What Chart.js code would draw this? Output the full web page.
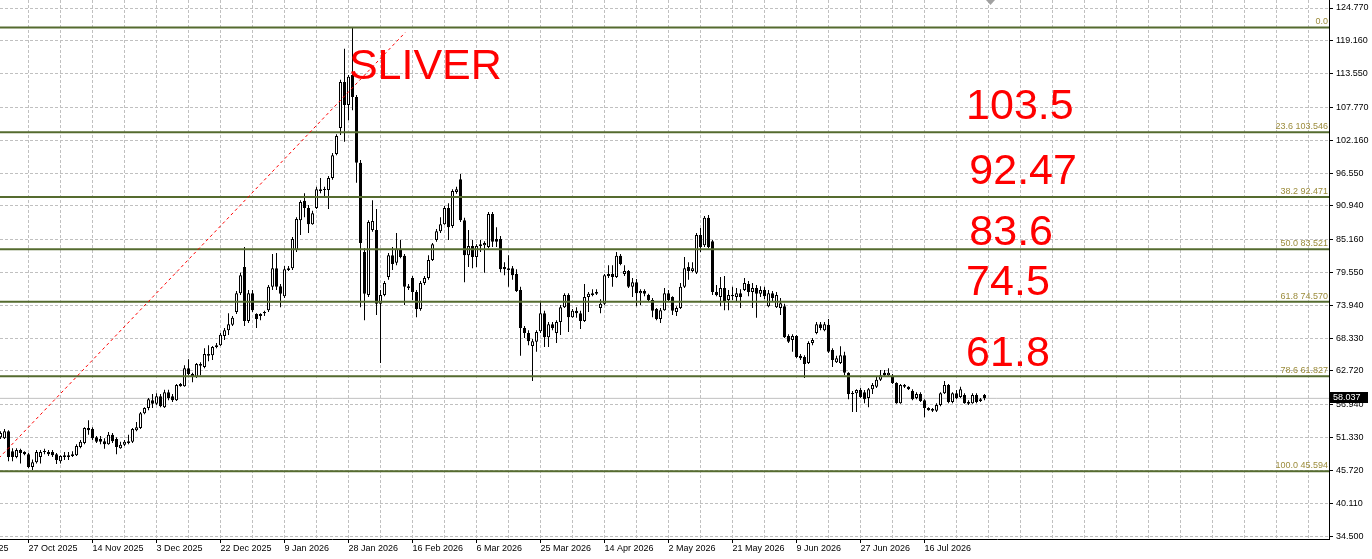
<!DOCTYPE html>
<html><head><meta charset="utf-8">
<script src="https://cdn.jsdelivr.net/npm/chart.js@4.4.1/dist/chart.umd.min.js"></script>
<style>html,body{margin:0;padding:0;background:#fff;overflow:hidden}canvas{display:block}</style>
</head><body>
<canvas id="c" width="1372" height="559"></canvas>
<script>
// ---- data (daily candles) ----
const opens=[51.4,51.2,52.4,49.0,48.0,49.2,48.85,48.5,46.3,47.1,
48.0,48.85,48.85,48.85,48.5,47.3,48.3,48.3,48.5,48.3,
49.7,50.4,52.95,52.8,51.4,51.1,50.7,50.2,51.8,51.1,
49.5,50.1,50.4,50.6,52.6,52.95,55.5,56.4,57.7,57.1,
58.4,56.5,59.1,58.4,57.7,60.5,60.1,63.2,62.2,61.7,
63.9,63.4,65.6,65.4,66.8,67.1,68.7,69.7,70.6,72.8,
76.0,80.5,71.25,76.0,72.45,72.1,72.6,73.1,77.1,80.3,
77.2,75.5,80.0,80.3,83.4,88.5,91.8,90.6,87.8,90.6,
93.8,93.65,93.65,95.7,99.8,104.25,112.1,108.2,113.3,109.55,
98.3,83.05,75.7,86.8,86.8,74.2,75.7,78.8,82.5,81.2,
83.4,82.4,77.2,78.6,76.2,73.3,77.75,78.6,81.7,85.1,
86.6,87.8,90.6,87.5,93.3,95.5,88.5,82.5,84.1,82.2,
84.1,84.2,83.9,89.55,85.3,85.3,80.5,80.3,80.3,79.3,
76.55,70.05,69.2,67.0,67.7,69.5,72.6,68.5,70.7,69.2,
71.1,73.6,75.7,71.9,73.0,72.6,71.25,75.35,75.7,75.9,
73.5,74.2,79.3,79.3,78.8,82.4,79.3,79.8,77.1,77.9,
76.0,76.4,75.7,74.85,73.3,71.6,73.1,76.0,75.35,72.8,
73.5,77.1,80.5,79.8,79.5,85.95,84.2,88.9,84.9,76.2,
75.35,76.9,74.85,75.5,75.35,76.0,76.55,77.6,76.2,76.9,
75.9,76.55,73.8,76.0,73.6,73.5,73.8,68.7,68.0,68.7,
65.3,65.1,64.1,67.5,69.2,70.7,69.7,70.6,66.3,64.2,
64.1,65.4,62.4,58.9,58.9,59.45,59.1,58.1,59.6,60.0,
61.2,62.4,62.0,61.7,60.65,57.2,60.3,60.0,59.3,58.1,
58.8,57.7,56.4,56.2,55.9,56.9,58.9,60.3,57.4,58.9,
58.25,58.6,57.4,57.2,58.6,57.9,58.6];
const highs=[52.4,52.8,52.6,49.5,49.5,49.4,49.0,48.7,47.6,49.2,
49.2,49.4,49.2,49.2,48.7,48.3,48.85,48.85,49.0,50.2,
50.9,53.1,54.3,53.1,51.6,51.6,51.2,52.3,52.1,51.4,
50.6,50.9,51.8,52.95,54.0,55.7,56.5,58.1,58.8,58.9,
58.8,59.5,59.5,58.8,60.5,60.65,63.7,64.7,62.4,64.1,
64.2,66.6,67.1,67.0,67.5,69.2,70.05,72.6,72.1,76.4,
79.5,83.9,76.55,76.55,72.6,72.6,73.0,77.4,82.7,82.9,
77.6,80.65,80.65,85.6,89.0,91.9,93.1,91.1,90.1,94.2,
95.7,94.2,96.05,100.0,103.2,112.5,117.8,113.3,121.448,109.9,
98.8,83.7,88.5,91.9,90.4,76.55,78.1,82.9,83.9,86.3,
85.1,82.7,77.6,78.95,76.55,78.1,78.95,82.5,84.6,87.0,
89.0,90.9,91.4,93.8,94.2,96.4,88.9,86.8,85.1,84.4,
85.1,84.9,89.9,89.9,87.3,85.8,81.3,82.5,80.65,80.1,
77.1,70.4,69.7,68.2,69.7,74.5,73.0,71.1,71.1,71.4,
74.0,76.0,76.0,73.3,73.6,73.0,77.6,76.2,76.7,76.7,
75.0,79.3,80.8,80.8,83.05,82.7,80.8,80.0,78.6,78.45,
76.7,76.7,75.9,75.2,73.5,73.5,76.9,76.55,75.5,73.8,
77.75,82.2,81.3,81.3,86.3,87.15,89.2,89.4,85.1,77.4,
78.8,78.95,76.55,77.1,76.9,76.7,78.6,78.1,77.75,77.4,
77.2,77.1,76.55,76.4,76.2,75.2,74.2,69.0,69.0,68.85,
65.6,65.4,67.8,68.35,71.1,71.1,71.1,71.6,66.6,65.3,
66.95,66.0,62.5,59.3,59.6,59.8,59.45,59.8,60.65,61.7,
62.9,62.9,63.2,62.2,60.8,60.5,60.5,60.1,59.6,59.1,
59.1,57.9,56.5,56.4,57.2,59.1,61.0,60.5,59.1,59.45,
60.0,58.9,57.7,58.9,58.9,58.1,58.8];
const lows=[51.1,51.1,47.3,47.3,47.8,46.9,48.3,46.1,45.8,46.9,
46.9,48.5,48.2,48.0,46.8,46.9,47.5,47.5,48.0,48.2,
49.5,50.2,51.8,50.9,50.4,50.2,49.4,50.1,50.4,48.5,
49.4,49.9,50.2,50.4,52.4,52.8,55.3,56.0,56.4,56.9,
56.5,56.4,57.7,57.4,57.6,60.0,60.0,62.0,60.8,61.5,
62.0,63.2,64.4,64.6,66.6,67.0,68.0,68.85,70.4,72.45,
75.7,70.4,70.9,72.8,70.05,71.4,72.1,72.8,76.55,76.55,
73.6,75.2,79.8,80.0,83.05,85.95,89.0,86.3,87.7,90.4,
93.1,92.3,90.4,95.4,99.6,103.05,101.9,105.6,107.3,94.9,
73.6,71.4,75.35,86.5,72.3,64.1,75.5,78.3,80.0,80.8,
82.0,74.0,76.55,74.85,71.9,73.0,77.4,78.3,81.5,84.8,
86.3,87.7,85.1,87.15,93.0,88.2,77.9,80.5,80.3,80.5,
83.05,79.5,83.7,83.9,83.9,79.6,79.1,77.1,78.3,76.2,
65.3,68.35,67.1,61.0,66.0,69.2,66.8,66.8,69.7,67.5,
68.85,73.5,69.4,71.8,71.8,69.9,71.1,72.8,75.5,75.7,
72.6,74.0,78.6,77.1,78.6,80.8,78.95,76.9,75.35,73.8,
74.0,75.5,74.7,71.9,71.4,70.9,73.0,74.7,72.3,72.1,
73.3,76.9,78.3,79.6,79.3,83.05,83.9,83.7,75.7,75.5,
73.8,73.1,73.1,74.85,74.7,73.5,76.4,75.5,73.5,71.8,
75.35,75.0,73.6,74.5,73.5,72.3,68.35,67.5,66.0,64.9,
64.6,61.5,63.9,67.1,69.0,69.7,69.5,65.8,63.4,64.1,
63.9,62.0,57.9,55.7,55.7,58.1,57.2,56.5,58.8,59.8,
61.0,61.7,61.85,60.5,57.1,57.1,59.8,59.45,57.7,57.9,
57.4,54.8,55.9,55.7,55.7,56.7,58.8,57.2,57.2,57.9,
58.1,57.1,56.9,57.1,57.2,57.4,57.7];
const closes=[52.1,52.4,48.0,48.0,49.2,48.7,48.5,46.3,47.1,48.85,
48.85,49.0,48.5,48.3,47.5,48.2,48.0,48.0,48.2,49.9,
50.6,52.95,52.6,51.2,50.6,50.6,50.2,51.8,50.7,49.7,
50.1,50.6,50.7,52.8,53.1,55.5,56.4,57.9,57.1,58.4,
56.7,59.1,58.1,57.7,60.3,60.1,63.2,62.2,61.7,63.9,
63.6,65.6,65.3,66.8,67.1,68.9,69.7,70.7,71.8,76.0,
79.1,71.25,76.0,73.1,71.6,72.45,72.8,77.1,80.3,77.1,
75.9,80.1,80.3,85.3,88.7,91.6,90.6,87.8,89.7,93.8,
93.5,93.8,95.7,99.6,102.9,112.1,108.2,113.0,109.55,98.3,
84.6,75.9,88.2,88.35,74.2,75.7,77.75,82.5,81.0,83.6,
82.2,77.1,76.9,76.2,73.3,77.75,78.6,81.7,84.4,86.6,
87.8,90.6,87.3,93.5,93.8,88.5,82.5,84.1,82.2,84.1,
84.4,84.6,89.55,84.8,84.8,80.1,80.1,80.0,79.1,76.4,
70.05,69.2,67.8,67.8,69.4,72.6,68.5,70.7,70.05,71.1,
73.6,75.7,71.9,73.0,72.6,71.25,75.35,75.9,76.0,76.2,
74.2,79.1,78.95,78.8,82.4,81.0,79.8,77.1,77.9,76.0,
76.4,75.9,74.85,73.0,71.6,73.1,76.0,74.85,73.0,73.5,
77.1,80.3,79.8,80.3,85.95,83.9,88.9,83.9,76.2,75.7,
76.9,74.5,75.7,75.7,76.0,75.35,77.75,76.2,76.9,75.9,
76.55,75.5,76.0,75.2,75.7,74.3,68.5,67.7,68.7,65.1,
64.9,63.9,67.5,68.0,70.7,70.05,70.7,66.0,64.6,64.9,
65.4,62.4,58.8,58.8,59.45,58.25,57.9,59.6,60.3,61.2,
62.0,62.0,62.4,60.65,57.2,60.3,60.0,59.6,57.9,58.8,
57.6,56.4,56.0,55.9,56.9,58.9,60.3,57.4,58.9,58.1,
59.6,57.2,57.1,58.6,57.4,57.6,58.037];

// x-axis date labels: one every 16 bars, first one (bar -9) is cut by the left edge
const xTickLabels=["9 Oct 2025","27 Oct 2025","14 Nov 2025","3 Dec 2025","22 Dec 2025","9 Jan 2026","28 Jan 2026","16 Feb 2026","6 Mar 2026","25 Mar 2026","14 Apr 2026","2 May 2026","21 May 2026","9 Jun 2026","27 Jun 2026","16 Jul 2026"];
const yTickValues=[34.5,40.11,45.72,51.33,56.94,62.72,68.33,73.94,79.55,85.16,90.94,96.55,102.16,107.77,113.55,119.16,124.77];
const fibLevels=["0.0","23.6","38.2","50.0","61.8","78.6","100.0"];
const fibPrices=[121.448,103.546,92.471,83.521,74.570,61.827,45.594];
const bidPrice=58.037;
const trendPoints=[{x:-3.5,y:45.594},{x:101.2,y:120.6}];
const noteTexts=["SLIVER","103.5","92.47","83.6","74.5","61.8"];
const noteBars=[87.1,241.4,242.2,242.2,241.4,241.4];
const notePrices=[112.63,105.79,94.68,84.25,75.70,63.57];

// ---- layout constants ----
const FIRST_LABEL_BAR=-9, LABEL_STEP=16, GRID_STEP=8;
const X_MIN=-0.125, X_MAX=X_MIN+1329/4;
const Y_MIN=33.99, Y_MAX=126.14;
const FONT='"Liberation Sans", Arial, sans-serif';
const GRID='#c0c0c0';

const xTicks=[FIRST_LABEL_BAR];
for(let b=7;b<=X_MAX;b+=GRID_STEP) xTicks.push(b);
function labelFor(v){
  const k=(v-FIRST_LABEL_BAR)/LABEL_STEP;
  return Number.isInteger(k)&&k<xTickLabels.length?xTickLabels[k]:'';
}

const bodies=opens.map((o,i)=>({x:i,y:[o,closes[i]]}));
const wicks=lows.map((l,i)=>({x:i,y:[l,highs[i]]}));
const bodyColors=opens.map((o,i)=>closes[i]>=o?'#ffffff':'#000000');

const datasets=[
  {type:'line',data:trendPoints,borderColor:'#ff0000',borderWidth:1,borderDash:[3,3],pointRadius:0,order:0,clip:false},
  ...fibPrices.map(p=>({type:'line',data:[{x:X_MIN,y:p},{x:X_MAX,y:p}],borderColor:'#556b2f',borderWidth:2,pointRadius:0,order:1})),
  {type:'bar',data:bodies,backgroundColor:bodyColors,borderColor:'#000000',borderWidth:1,borderSkipped:false,barThickness:3,grouped:false,minBarLength:1,inflateAmount:0,order:4},
  {type:'bar',data:wicks,backgroundColor:'#000000',borderWidth:0,barThickness:1,grouped:false,minBarLength:1,inflateAmount:0,order:5},
  {type:'line',data:[{x:X_MIN,y:bidPrice},{x:X_MAX,y:bidPrice}],borderColor:'#c0c0c0',borderWidth:1,pointRadius:0,order:10}
];

const overlay={
  id:'overlay',
  afterDraw(chart){
    const ctx=chart.ctx, xs=chart.scales.x, ys=chart.scales.y, ca=chart.chartArea;
    ctx.save();
    // fib labels
    ctx.font='9px '+FONT; ctx.fillStyle='#9c8c3c'; ctx.textAlign='right'; ctx.textBaseline='alphabetic';
    fibPrices.forEach((p,i)=>{
      const y=ys.getPixelForValue(p);
      const t=fibLevels[i]==='0.0'?'0.0':fibLevels[i]+' '+p.toFixed(3);
      ctx.fillText(t,ca.right-1,y-3);
    });
    // red notes
    ctx.font='43px '+FONT; ctx.fillStyle='#ff0000'; ctx.textAlign='left';
    noteTexts.forEach((t,i)=>{
      ctx.fillText(t,xs.getPixelForValue(noteBars[i]),ys.getPixelForValue(notePrices[i]));
    });
    // bid price box
    const by=ys.getPixelForValue(bidPrice);
    ctx.fillStyle='#000'; ctx.fillRect(ca.right+1,Math.round(by)-6,38,11);
    ctx.fillStyle='#fff'; ctx.font='9px '+FONT; ctx.textAlign='left'; ctx.textBaseline='middle';
    ctx.fillText(bidPrice.toFixed(3),ca.right+4,Math.round(by));
    // chart shift marker
    ctx.fillStyle='#a0a0a0';
    ctx.beginPath(); ctx.moveTo(986,0); ctx.lineTo(995,0); ctx.lineTo(990.5,5); ctx.closePath(); ctx.fill();
    ctx.restore();
  }
};
const whiteBg={id:'bg',beforeDraw(c){const x=c.ctx;x.save();x.fillStyle='#fff';x.fillRect(0,0,c.width,c.height);x.restore();}};

new Chart(document.getElementById('c'),{
  type:'bar',
  data:{datasets},
  options:{
    responsive:false,animation:false,events:[],devicePixelRatio:1,
    layout:{padding:0},
    plugins:{legend:{display:false},tooltip:{enabled:false}},
    scales:{
      x:{type:'linear',min:X_MIN,max:X_MAX,offset:false,position:'bottom',
        afterBuildTicks(s){s.ticks=xTicks.map(v=>({value:v}));},
        afterFit(s){s.height=20;s.paddingLeft=0;s.paddingRight=0;},
        ticks:{autoSkip:false,maxRotation:0,minRotation:0,align:'start',padding:0,color:'#000',font:{family:FONT,size:9},
          callback:(v)=>labelFor(v)},
        grid:{offset:false,color:GRID,lineWidth:1,tickLength:4,
          tickColor:(c)=>labelFor(c.tick?c.tick.value:NaN)?'#000':'rgba(0,0,0,0)'},
        border:{display:true,color:'#000',width:1,dash:[3,2]}
      },
      y:{type:'linear',min:Y_MIN,max:Y_MAX,position:'right',
        afterBuildTicks(s){s.ticks=yTickValues.map(v=>({value:v}));},
        afterFit(s){s.width=43;s.paddingTop=0;s.paddingBottom=0;},
        ticks:{autoSkip:false,padding:3,color:'#000',font:{family:FONT,size:9},callback:(v)=>v.toFixed(3)},
        grid:{color:GRID,lineWidth:1,tickLength:4,tickColor:'#000'},
        border:{display:true,color:'#000',width:1,dash:[3,2]}
      }
    }
  },
  plugins:[whiteBg,overlay]
});
</script>
</body></html>
